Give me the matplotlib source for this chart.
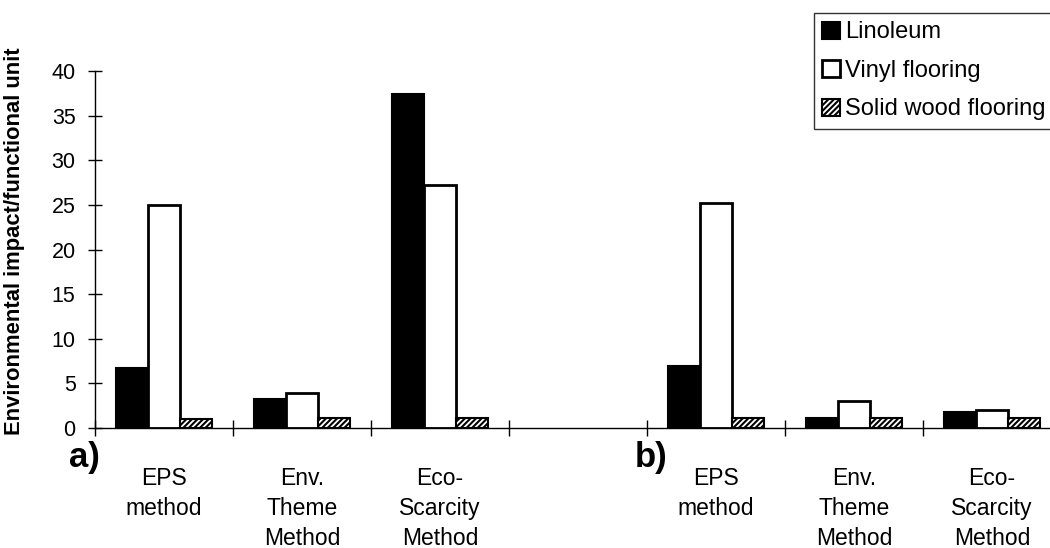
import numpy as np
import matplotlib.pyplot as plt

plt.rcParams['font.family'] = ['Liberation Sans', 'DejaVu Sans']

categories = ["EPS\nmethod", "Env.\nTheme\nMethod", "Eco-\nScarcity\nMethod", "",
              "EPS\nmethod", "Env.\nTheme\nMethod", "Eco-\nScarcity\nMethod"]
linoleum = [6.7, 3.2, 37.5, 0, 6.9, 1.1, 1.8]
vinyl = [25.0, 3.9, 27.2, 0, 25.2, 3.0, 2.0]
solid_wood = [1.0, 1.1, 1.1, 0, 1.1, 1.1, 1.1]
panel_labels = ["a)", "b)"]

fig = plt.figure(figsize=(10.5, 5.48), dpi=100)
ax = fig.add_axes([0.0905, 0.219, 0.92, 0.651])

x = np.arange(len(categories))
w = 0.23
mask = np.array([c != "" for c in categories])
ax.bar(x[mask] - w, np.array(linoleum)[mask], w, color='black', edgecolor='black',
       linewidth=1.5, label='Linoleum')
ax.bar(x[mask], np.array(vinyl)[mask], w, color='white', edgecolor='black',
       linewidth=2, label='Vinyl flooring')
plt.rcParams['hatch.linewidth'] = 1.5
ax.bar(x[mask] + w, np.array(solid_wood)[mask], w, color='white', edgecolor='black',
       hatch='//////', linewidth=1.5, label='Solid wood flooring')

ax.set_xlim(-0.5, 6.42)
ax.set_ylim(0, 40)
ax.set_yticks(range(0, 41, 5))
ax.tick_params(axis='y', direction='inout', length=10, labelsize=15.5, width=1, pad=9)
ax.set_xticks(x)
ax.set_xticklabels(categories, fontsize=16.5, linespacing=1.38, va='top')
ax.tick_params(axis='x', which='major', length=0, pad=28)
ax.set_xticks(np.arange(-0.5, 7, 1), minor=True)
ax.tick_params(axis='x', which='minor', direction='inout', length=12, width=1)

for s in ['top', 'right']:
    ax.spines[s].set_visible(False)
ax.spines['left'].set_linewidth(1)
ax.spines['bottom'].set_linewidth(1)

ax.set_ylabel('Environmental impact/functional unit', fontsize=15.8,
              fontweight='bold')
ax.yaxis.set_label_coords(-0.0725, 0.524)

ax.text(-0.58, -1.5, panel_labels[0], fontsize=25, fontweight='bold',
        ha='center', va='top')
ax.text(3.53, -1.5, panel_labels[1], fontsize=25, fontweight='bold',
        ha='center', va='top')

leg = fig.legend(loc='upper right', bbox_to_anchor=(1.004, 0.976), fontsize=17,
                 frameon=True, fancybox=False, edgecolor='black',
                 handlelength=0.75, handleheight=0.75, handletextpad=0.25,
                 labelspacing=0.7, borderpad=0.35, borderaxespad=0)
leg.get_frame().set_linewidth(1)

fig.savefig('out.png', dpi=100)
